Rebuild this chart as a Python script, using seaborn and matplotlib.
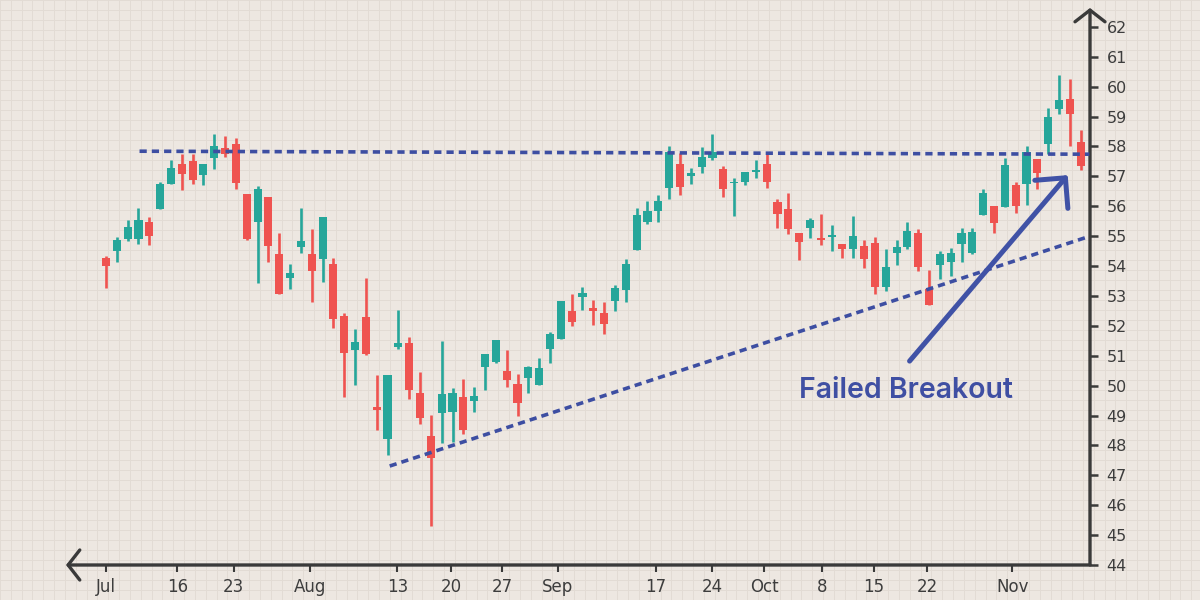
import numpy as np
import pandas as pd
import matplotlib
matplotlib.use('Agg')
import matplotlib.pyplot as plt
import seaborn as sns
from matplotlib.ticker import MultipleLocator, FixedLocator

# OHLC per trading day
opens = [54.27, 54.50, 54.90, 54.90, 55.47, 55.90, 56.74, 57.41, 57.51, 57.04,
         57.61, 57.95, 58.08, 56.41, 55.47, 56.31, 54.40, 53.60, 54.64, 54.40,
         54.23, 54.07, 52.33, 51.19, 52.29, 49.29, 48.21, 51.29, 51.42, 49.75,
         48.31, 49.08, 49.12, 49.62, 49.49, 50.62, 50.79, 50.49, 50.05, 50.25,
         50.02, 51.22, 51.56, 52.50, 52.96, 52.60, 52.43, 52.83, 53.20, 54.54,
         55.47, 55.84, 56.61, 57.41, 57.01, 57.31, 57.61, 57.24, 56.78, 56.81,
         57.14, 57.41, 56.14, 55.91, 55.10, 55.27, 54.94, 54.97, 54.74, 54.57,
         54.67, 54.77, 53.30, 54.43, 54.64, 55.10, 53.23, 54.03, 54.13, 54.74,
         54.43, 55.71, 56.01, 55.97, 56.71, 56.74, 57.58, 58.08, 59.25, 59.58,
         58.15]
highs = [54.33, 54.97, 55.54, 55.94, 55.64, 56.80, 57.55, 57.75, 57.75, 57.41,
         58.41, 58.35, 58.28, 56.41, 56.68, 56.31, 55.10, 54.07, 55.94, 55.24,
         55.64, 54.27, 52.43, 51.89, 53.60, 50.35, 50.35, 52.53, 51.63, 50.45,
         49.02, 51.49, 49.92, 50.22, 49.95, 51.06, 51.52, 51.19, 50.39, 50.66,
         50.92, 51.79, 52.83, 53.06, 53.30, 52.86, 52.80, 53.36, 54.23, 55.94,
         56.17, 56.37, 58.01, 57.78, 57.28, 57.98, 58.41, 57.34, 56.94, 57.14,
         57.55, 57.75, 56.24, 56.44, 55.10, 55.60, 55.74, 55.37, 54.74, 55.67,
         54.87, 54.97, 54.57, 54.87, 55.47, 55.24, 53.87, 54.50, 54.60, 55.27,
         55.27, 56.58, 56.01, 57.61, 56.81, 58.01, 57.58, 59.28, 60.39, 60.25,
         58.55]
lows = [53.26, 54.13, 54.85, 54.74, 54.70, 55.90, 56.74, 56.54, 56.74, 56.70,
        57.24, 57.64, 56.58, 54.87, 53.43, 54.13, 53.06, 53.23, 54.43, 52.80,
        53.47, 51.93, 49.62, 50.02, 51.02, 48.51, 47.68, 51.22, 49.55, 48.72,
        45.30, 48.08, 48.11, 48.38, 49.12, 49.85, 50.75, 49.95, 48.98, 49.75,
        50.02, 50.76, 51.56, 52.00, 52.53, 52.03, 51.73, 52.50, 52.80, 54.54,
        55.40, 55.47, 56.24, 56.37, 56.74, 57.11, 57.55, 56.31, 55.67, 56.70,
        56.94, 56.61, 55.27, 55.07, 54.20, 54.94, 54.70, 54.50, 54.27, 54.27,
        53.93, 53.06, 53.16, 54.03, 54.57, 53.83, 52.70, 53.57, 53.67, 54.13,
        54.40, 55.71, 55.10, 55.97, 55.77, 56.04, 56.58, 57.75, 59.08, 58.01,
        57.21]
closes = [54.00, 54.87, 55.30, 55.54, 55.00, 56.74, 57.28, 57.08, 56.88, 57.41,
          58.01, 57.75, 56.78, 54.90, 56.58, 54.67, 53.06, 53.77, 54.84, 53.83,
          55.64, 52.23, 51.09, 51.46, 51.06, 49.18, 50.35, 51.42, 49.85, 48.92,
          47.58, 49.72, 49.75, 48.51, 49.65, 51.06, 51.52, 50.19, 49.42, 50.62,
          50.59, 51.73, 52.83, 52.13, 53.10, 52.50, 52.06, 53.26, 54.07, 55.71,
          55.84, 56.17, 57.81, 56.64, 57.11, 57.65, 57.81, 56.58, 56.81, 57.14,
          57.21, 56.81, 55.74, 55.24, 54.80, 55.54, 54.87, 55.04, 54.57, 55.00,
          54.23, 53.30, 53.97, 54.64, 55.17, 53.97, 52.70, 54.40, 54.43, 55.10,
          55.14, 56.44, 55.44, 57.38, 56.01, 57.81, 57.11, 58.98, 59.55, 59.08,
          57.34]

# x tick labels and where they sit (in trading-day units)
tick_labels = ['Jul', '16', '23', 'Aug', '13', '20', '27', 'Sep',
               '17', '24', 'Oct', '8', '15', '22', 'Nov']
tick_days = [0, 6.6, 11.8, 18.8, 26.9, 31.9, 36.6, 41.7,
             50.8, 56.0, 60.8, 66.1, 70.9, 75.8, 83.7]

# drawn annotations
resistance_x = [3.1, 90.8]
resistance_y = [57.84, 57.74]
support_x = [26.2, 90.7]
support_y = [47.31, 54.98]
arrow_from = (74.2, 50.82)
arrow_to = (88.8, 57.04)
label_at = (73.9, 49.85)

GREEN = '#26a69a'
RED = '#ef5350'
BLUE = '#3d4ea2'
AXIS = '#3a3a3a'
BG = '#ede7e1'

sns.set_theme(style='white')
plt.rcParams['font.family'] = ['DejaVu Sans']

df = pd.DataFrame({'open': opens, 'high': highs, 'low': lows, 'close': closes})
df['day'] = np.arange(len(df))
df['up'] = df['close'] >= df['open']
df['color'] = np.where(df['up'], GREEN, RED)

fig = plt.figure(figsize=(12, 6), dpi=100, facecolor=BG)

# graph-paper background over the whole figure
bg = fig.add_axes([0, 0, 1, 1], zorder=0)
bg.set_facecolor(BG)
bg.set_xlim(0, 1200)
bg.set_ylim(0, 600)
bg.xaxis.set_major_locator(MultipleLocator(10.83))
bg.yaxis.set_major_locator(MultipleLocator(10))
bg.grid(True, color='#e2dbd4', lw=0.7)
bg.tick_params(length=0, labelbottom=False, labelleft=False)
for s in bg.spines.values():
    s.set_visible(False)

ax = fig.add_axes([66 / 1200, 1 - 565 / 600, (1090 - 66) / 1200, (565 - 8) / 600], zorder=1)
ax.set_facecolor('none')
ax.grid(False)
for s in ax.spines.values():
    s.set_visible(False)

# candles
ax.vlines(df['day'], df['low'], df['high'], colors=df['color'], lw=1.9, zorder=3)
ax.bar(df['day'], (df['close'] - df['open']).abs(),
       bottom=df[['open', 'close']].min(axis=1),
       width=0.75, color=df['color'], lw=0, zorder=3)

# trend lines
dash = (0, (2.0, 1.4))
sns.lineplot(x=resistance_x, y=resistance_y, ax=ax, color=BLUE, lw=2.6,
             linestyle=dash, legend=False, zorder=4)
sns.lineplot(x=support_x, y=support_y, ax=ax, color=BLUE, lw=2.6,
             linestyle=dash, legend=False, zorder=4)

ax.annotate('', xy=arrow_to, xytext=arrow_from,
            arrowprops=dict(arrowstyle='->,head_length=1.3,head_width=1.3',
                            lw=3.6, color='#4052a6', shrinkA=0, shrinkB=0),
            zorder=5)
ax.text(*label_at, 'Failed Breakout', ha='center', va='center', fontsize=20.5,
        fontweight='semibold', color='#3f4fa3', family=['Inter', 'DejaVu Sans'],
        zorder=5)

ax.set_xlim(-3.69, 90.86)
ax.set_ylim(44, 62.63)

# axis lines with arrow heads
axis_arrow = dict(arrowstyle='->,head_length=0.7,head_width=0.9', lw=2.4,
                  color=AXIS, shrinkA=0, shrinkB=0)
ax.annotate('', xy=(1, 1), xytext=(1, 0), xycoords='axes fraction',
            arrowprops=axis_arrow, annotation_clip=False)
ax.annotate('', xy=(0, 0), xytext=(1, 0), xycoords='axes fraction',
            arrowprops=axis_arrow, annotation_clip=False)

ax.yaxis.tick_right()
ax.yaxis.set_major_locator(FixedLocator(list(range(44, 63))))
ax.tick_params(axis='y', which='major', right=True, left=False, length=6,
               width=1.8, color=AXIS, pad=6, labelsize=11.5, labelcolor='#3d3d3d')
ax.set_xticks(tick_days)
ax.set_xticklabels(tick_labels)
ax.tick_params(axis='x', which='major', bottom=True, length=5, width=1.5,
               color=AXIS, pad=4, labelsize=12, labelcolor='#3d3d3d')

fig.savefig('out.png', dpi=100, facecolor=BG)
